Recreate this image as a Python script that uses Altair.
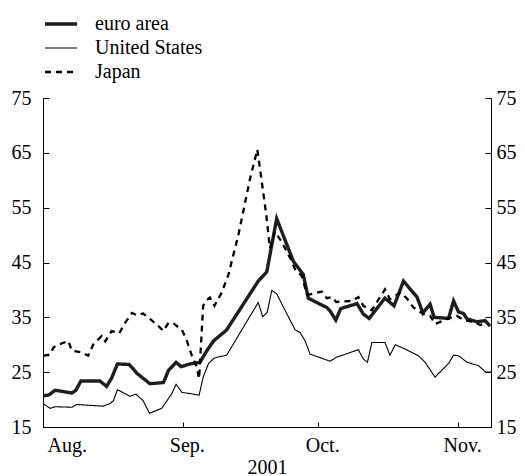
import altair as alt
import pandas as pd

# days since 1 August 2001
series_names = ["euro area", "United States", "Japan"]

euro_days = [0.1, 1.2, 2.7, 6.4, 7.3, 8.4, 12.6, 14.1, 15.2, 16.5, 19.1, 20.0, 20.8, 23.7, 26.7,
             27.8, 29.5, 30.6, 32.6, 34.8, 36.3, 37.8, 40.7, 47.7, 49.6, 51.8, 55.5, 57.7, 58.8,
             61.4, 62.9, 63.6, 64.9, 66.0, 69.6, 71.0, 72.3, 75.8, 77.8, 79.9, 82.9, 84.2, 85.8,
             86.7, 89.9, 91.0, 92.1, 93.2, 94.0, 96.2, 98.0, 99.1]
euro_vals = [20.7, 20.8, 21.7, 21.2, 21.7, 23.4, 23.4, 22.4, 23.9, 26.5, 26.4, 25.6, 24.8, 22.9, 23.1,
             25.3, 26.8, 26.0, 26.5, 26.8, 28.9, 30.7, 32.7, 41.6, 43.3, 53.0, 45.2, 42.8, 38.5,
             37.4, 36.8, 36.2, 34.5, 36.6, 37.5, 35.6, 34.8, 38.5, 37.1, 41.6, 38.7, 35.8, 37.4,
             35.0, 34.8, 38.0, 36.0, 35.7, 34.7, 34.2, 34.4, 33.4]

us_days = [0.1, 1.6, 2.7, 6.4, 7.5, 13.4, 14.9, 15.6, 16.5, 19.3, 20.6, 22.2, 23.6, 26.3, 28.5,
           29.5, 30.8, 32.6, 34.6, 35.5, 36.7, 38.0, 40.7, 47.7, 48.7, 49.7, 50.7, 51.8, 53.7,
           55.9, 57.0, 58.1, 59.2, 63.6, 65.0, 69.9, 71.0, 71.9, 72.9, 75.8, 76.9, 78.1, 80.3,
           83.2, 84.7, 86.9, 89.9, 91.0, 92.1, 94.0, 96.5, 98.2, 99.3]
us_vals = [19.2, 18.4, 18.7, 18.6, 19.1, 18.8, 19.3, 19.8, 21.8, 20.6, 21.0, 19.8, 17.5, 18.4, 21.0,
           22.8, 21.3, 21.1, 20.8, 24.1, 26.6, 27.6, 28.1, 37.7, 35.1, 35.9, 39.9, 39.3, 36.2,
           32.7, 32.2, 30.7, 28.3, 27.0, 27.7, 29.1, 27.4, 26.8, 30.4, 30.4, 28.1, 30.0, 29.2,
           28.0, 26.8, 24.1, 26.6, 28.1, 28.0, 26.8, 26.2, 25.0, 25.0]

jp_days = [0.1, 1.6, 2.3, 3.4, 5.6, 6.4, 8.6, 10.0, 11.2, 13.0, 13.8, 15.2, 16.9, 18.2, 19.7,
           20.8, 22.2, 23.7, 25.6, 26.7, 27.8, 28.9, 30.8, 31.9, 33.0, 34.1, 34.6, 35.5, 36.1,
           37.0, 38.0, 39.6, 41.1, 43.3, 45.9, 47.5, 48.5, 49.5, 50.3, 51.4, 52.9, 54.8, 55.9,
           57.4, 58.5, 59.2, 61.8, 62.9, 64.0, 65.0, 68.5, 69.9, 71.0, 72.9, 74.4, 75.8, 76.9,
           79.2, 80.6, 82.1, 84.3, 85.8, 86.9, 89.9, 91.7, 93.2, 95.4, 96.9, 98.4]
jp_vals = [28.0, 28.2, 29.5, 30.0, 30.7, 28.9, 28.6, 28.0, 30.1, 31.6, 30.6, 32.5, 32.1, 34.0, 35.8,
           35.4, 35.7, 34.7, 33.4, 32.5, 34.0, 33.9, 32.7, 30.7, 28.0, 25.9, 23.8, 37.1, 38.0,
           38.6, 37.1, 39.5, 42.8, 50.0, 60.3, 65.6, 59.7, 53.6, 47.6, 50.6, 48.8, 45.8, 43.7,
           42.5, 39.2, 39.2, 39.7, 38.5, 38.7, 37.8, 38.0, 38.7, 37.1, 36.3, 38.3, 40.1, 38.3,
           39.5, 38.5, 36.8, 35.6, 35.3, 33.8, 34.8, 35.3, 34.5, 34.2, 33.6, 34.0]

month_ticks = [0, 31, 61, 92]
month_labels = ["Aug.", "Sep.", "Oct.", "Nov."]
y_ticks = [15, 25, 35, 45, 55, 65, 75]

rows = []
for name, ds, vs in [("euro area", euro_days, euro_vals),
                     ("United States", us_days, us_vals),
                     ("Japan", jp_days, jp_vals)]:
    for d, v in zip(ds, vs):
        rows.append({"series": name, "day": d, "value": v})
df = pd.DataFrame(rows)

FONT = "Times New Roman"
label_expr = " : ".join(
    f"datum.value == {t} ? '{l}'" for t, l in zip(month_ticks, month_labels)
) + " : ''"

x_scale = alt.Scale(domain=[0, 99.3], nice=False, zero=False)
y_scale = alt.Scale(domain=[15, 75], nice=False, zero=False)

lines = alt.Chart(df).mark_line(strokeJoin="miter").encode(
    x=alt.X("day:Q", scale=x_scale,
            axis=alt.Axis(values=month_ticks, labelExpr=label_expr, title="2001",
                          orient="bottom", tickSize=alt.ExprRef(expr="-5"),
                          labelPadding=13, labelOffset=4, titlePadding=2,
                          labelFont=FONT, titleFont=FONT)),
    y=alt.Y("value:Q", scale=y_scale,
            axis=alt.Axis(values=y_ticks, orient="left", title=None,
                          tickSize=alt.ExprRef(expr="-6"), labelPadding=18,
                          labelFont=FONT)),
    color=alt.Color("series:N", title=None,
                    scale=alt.Scale(domain=series_names, range=["#1e1e1e", "#000000", "#000000"])),
    strokeWidth=alt.StrokeWidth("series:N", title=None,
                                scale=alt.Scale(type="ordinal", domain=series_names,
                                                range=[3.4, 1.1, 2.3])),
    strokeDash=alt.StrokeDash("series:N", title=None,
                              scale=alt.Scale(domain=series_names, range=[[1, 0], [1, 0], [6, 5]])),
)

right_axis = alt.Chart(df).mark_line(opacity=0).encode(
    x=alt.X("day:Q", scale=x_scale),
    y=alt.Y("value:Q", scale=y_scale,
            axis=alt.Axis(values=y_ticks, orient="right", title=None,
                          tickSize=alt.ExprRef(expr="-6"), labelPadding=11,
                          labelFont=FONT)),
    detail="series:N",
)

chart = alt.layer(lines, right_axis).resolve_axis(y="independent").properties(
    width=448, height=329,
    autosize=alt.AutoSizeParams(type="none"),
    padding={"left": 35, "top": 90, "right": 26, "bottom": 49},
).configure(font=FONT).configure_view(stroke=None).configure_axis(
    grid=False, domainColor="black", tickColor="black", domainWidth=1, tickWidth=1,
    labelFontSize=20, labelColor="black",
    titleFontSize=20, titleColor="black", titleFontWeight="normal",
).configure_legend(
    orient="none", legendX=0, legendY=-84, direction="vertical",
    labelFont=FONT, labelFontSize=20, labelColor="black",
    symbolType="stroke", symbolSize=1024, labelOffset=16, rowPadding=4, padding=0,
    clipHeight=20,
)

chart.save("out.html", embed_options={"renderer": "svg", "actions": False})
